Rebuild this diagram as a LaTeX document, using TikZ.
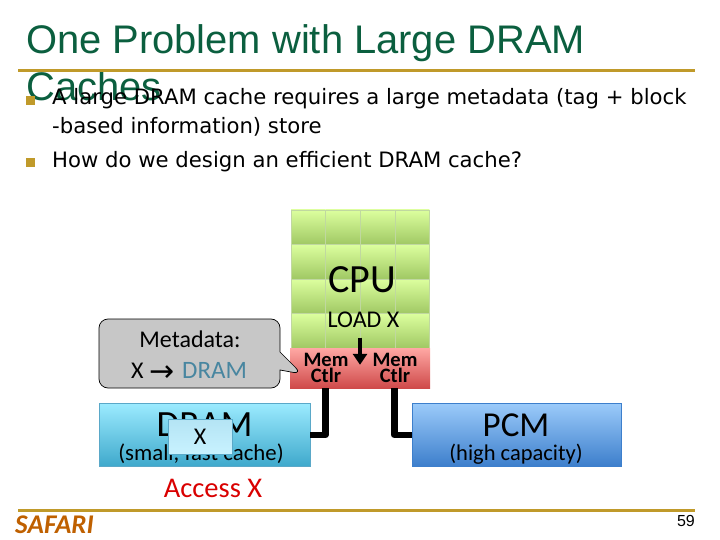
\documentclass[tikz,border=0pt]{standalone}
\usepackage{fontspec}
\setmainfont{Liberation Sans}
\newfontfamily\bodyf{DejaVu Sans}
\newfontfamily\calf{Carlito}
\usetikzlibrary{shapes.callouts,arrows.meta}
\definecolor{gold}{HTML}{C09A2A}
\definecolor{titlegreen}{HTML}{0B5F3F}
\tikzset{
 x=1pt,y=-1pt,
 txt/.style={inner sep=0pt,anchor=base west},
 bodytxt/.style={txt,font=\bodyf\fontsize{21.2}{24}\selectfont,text=black},
 titletxt/.style={txt,font=\fontsize{39.9}{42}\selectfont,text=titlegreen},
 cell/.style={minimum width=34.6pt,minimum height=34.5pt,inner sep=0pt,top color=green1,bottom color=green2,draw=green3,line width=.3pt},
 ctlr/.style={minimum width=70pt,minimum height=40pt,inner sep=0pt,top color=red1,bottom color=red2,draw=none},
 membox/.style={minimum width=211pt,minimum height=63pt,inner sep=0pt,top color=blue1,bottom color=blue2,draw=blue3,line width=.4pt},
 bus/.style={line width=6.5pt,black,line join=round},
 cal/.style={font=\calf\fontsize{#1}{#1}\selectfont,inner sep=0pt},
 calb/.style={font=\calf\bfseries\fontsize{20.5}{20.5}\selectfont,inner sep=0pt,anchor=base},
 bullet/.style={fill=gold,minimum size=9pt,inner sep=0pt,draw=none},
 rulel/.style={line width=3pt,gold}
}
\definecolor{green1}{HTML}{DCFF9E}
\definecolor{green2}{HTML}{A0C864}
\definecolor{green3}{HTML}{C0D8A0}
\definecolor{red1}{HTML}{FFA8A4}
\definecolor{red2}{HTML}{CF4A4A}
\definecolor{blue1}{HTML}{9CEBFF}
\definecolor{blue2}{HTML}{3FA9CC}
\definecolor{blue3}{HTML}{5AA8C8}
\definecolor{pcm1}{HTML}{9CCBFA}
\definecolor{pcm2}{HTML}{3D7FCC}
\definecolor{xbox1}{HTML}{B4E4F4}
\definecolor{xbox2}{HTML}{C8F2FF}
\begin{document}
\begin{tikzpicture}
\useasboundingbox (0,0) rectangle (720,540);
% title
\node[titletxt] (t1) at (26,54) {One Problem with Large DRAM};
\node[titletxt] (t2) at (26,101) {Caches};
\coordinate (r1a) at (18,70.5); \coordinate (r1b) at (695,70.5);
\draw[rulel] (r1a) -- (r1b);
% bullets
\node[bullet] (b1) at (30.5,100.5) {};
\node[bullet] (b2) at (30.5,163) {};
\node[bodytxt] (l1) at (52,105) {A large DRAM cache requires a large metadata (tag + block};
\node[bodytxt] (l2) at (52,134) {-based information) store};
\node[bodytxt] (l3) at (52,168) {How do we design an efficient DRAM cache?};
% CPU grid
\foreach \r in {0,1,2,3}{\foreach \c in {0,1,2,3}{
 \node[cell] (c\r\c) at ({308.3+34.6*\c},{227.25+34.5*\r}) {};
}}
% Mem ctlr
\node[ctlr] (m1) at (325,368) {};
\node[ctlr] (m2) at (395,368) {};
% callout
\node[draw=black,line width=.7pt,fill=black!22,rounded corners=9pt,minimum width=181pt,minimum height=69pt,
  inner sep=0pt,rectangle callout,callout absolute pointer={(302,374)},callout pointer width=18pt] (meta) at (189.5,353.5) {};
\node[cal=24,align=center,text=black] (mt1) at (190,339) {Metadata:};
\node[cal=24,anchor=base west] (mt2) at (131,378) {X};
\node[anchor=base west,inner sep=0pt,font=\bodyf\fontsize{30}{30}\selectfont] (mt3) at (149,381) {→};
\node[cal=25,anchor=base west,text=blue3!80!black] (mt4) at (182,378) {DRAM};
% mem boxes
\node[membox] (dram) at (204.5,434.5) {};
\node[membox,minimum width=209pt,top color=pcm1,bottom color=pcm2,draw=pcm2] (pcm) at (516.5,434.5) {};
% buses
\coordinate (ma) at (325.5,388); \coordinate (mb) at (394.5,388);
\draw[bus] (ma) |- (dram.east |- 0,435);
\draw[bus] (mb) |- (pcm.west |- 0,435);
% dram/pcm text
\node[cal=37,anchor=base] (dt) at (204.5,436) {DRAM};
\node[cal=22.8,anchor=base] (ds) at (201,460) {(small, fast cache)};
\node[minimum width=64pt,minimum height=35pt,inner sep=0pt,top color=xbox1,bottom color=xbox2,draw=blue3,line width=.4pt,cal=24] (xb) at (200,436.5) {X};
\node[cal=35,anchor=base] (pt) at (516,436) {PCM};
\node[cal=22.5,anchor=base] (ps) at (516,460) {(high capacity)};
% CPU labels
\node[cal=40,anchor=base] (cpu) at (362,292) {CPU};
\node[cal=24,anchor=base] (load) at (363.5,327) {LOAD X};
\node[inner sep=0pt] (ldtop) at (360,337) {};
\node[inner sep=0pt] (ldend) at (360,365.5) {};
\draw[-{Triangle[width=14pt,length=11pt]},line width=4pt] (ldtop) -- (ldend);
\node[calb] (mc1a) at (326,366) {Mem};
\node[calb] (mc1b) at (326,382) {Ctlr};
\node[calb] (mc2a) at (395,366) {Mem};
\node[calb] (mc2b) at (395,382) {Ctlr};
% access
\node[cal=28.5,anchor=base,text=red!85!black] (acc) at (213,497.5) {Access X};
% footer
\coordinate (r2a) at (18,510); \coordinate (r2b) at (695,510);
\draw[rulel] (r2a) -- (r2b);
\node[txt,font=\calf\bfseries\itshape\fontsize{27}{27}\selectfont,text=orange!75!black] (saf) at (15,533) {SAFARI};
\node[txt,anchor=base east,font=\fontsize{16}{16}\selectfont] (pg) at (695,526) {59};
\end{tikzpicture}
\end{document}
